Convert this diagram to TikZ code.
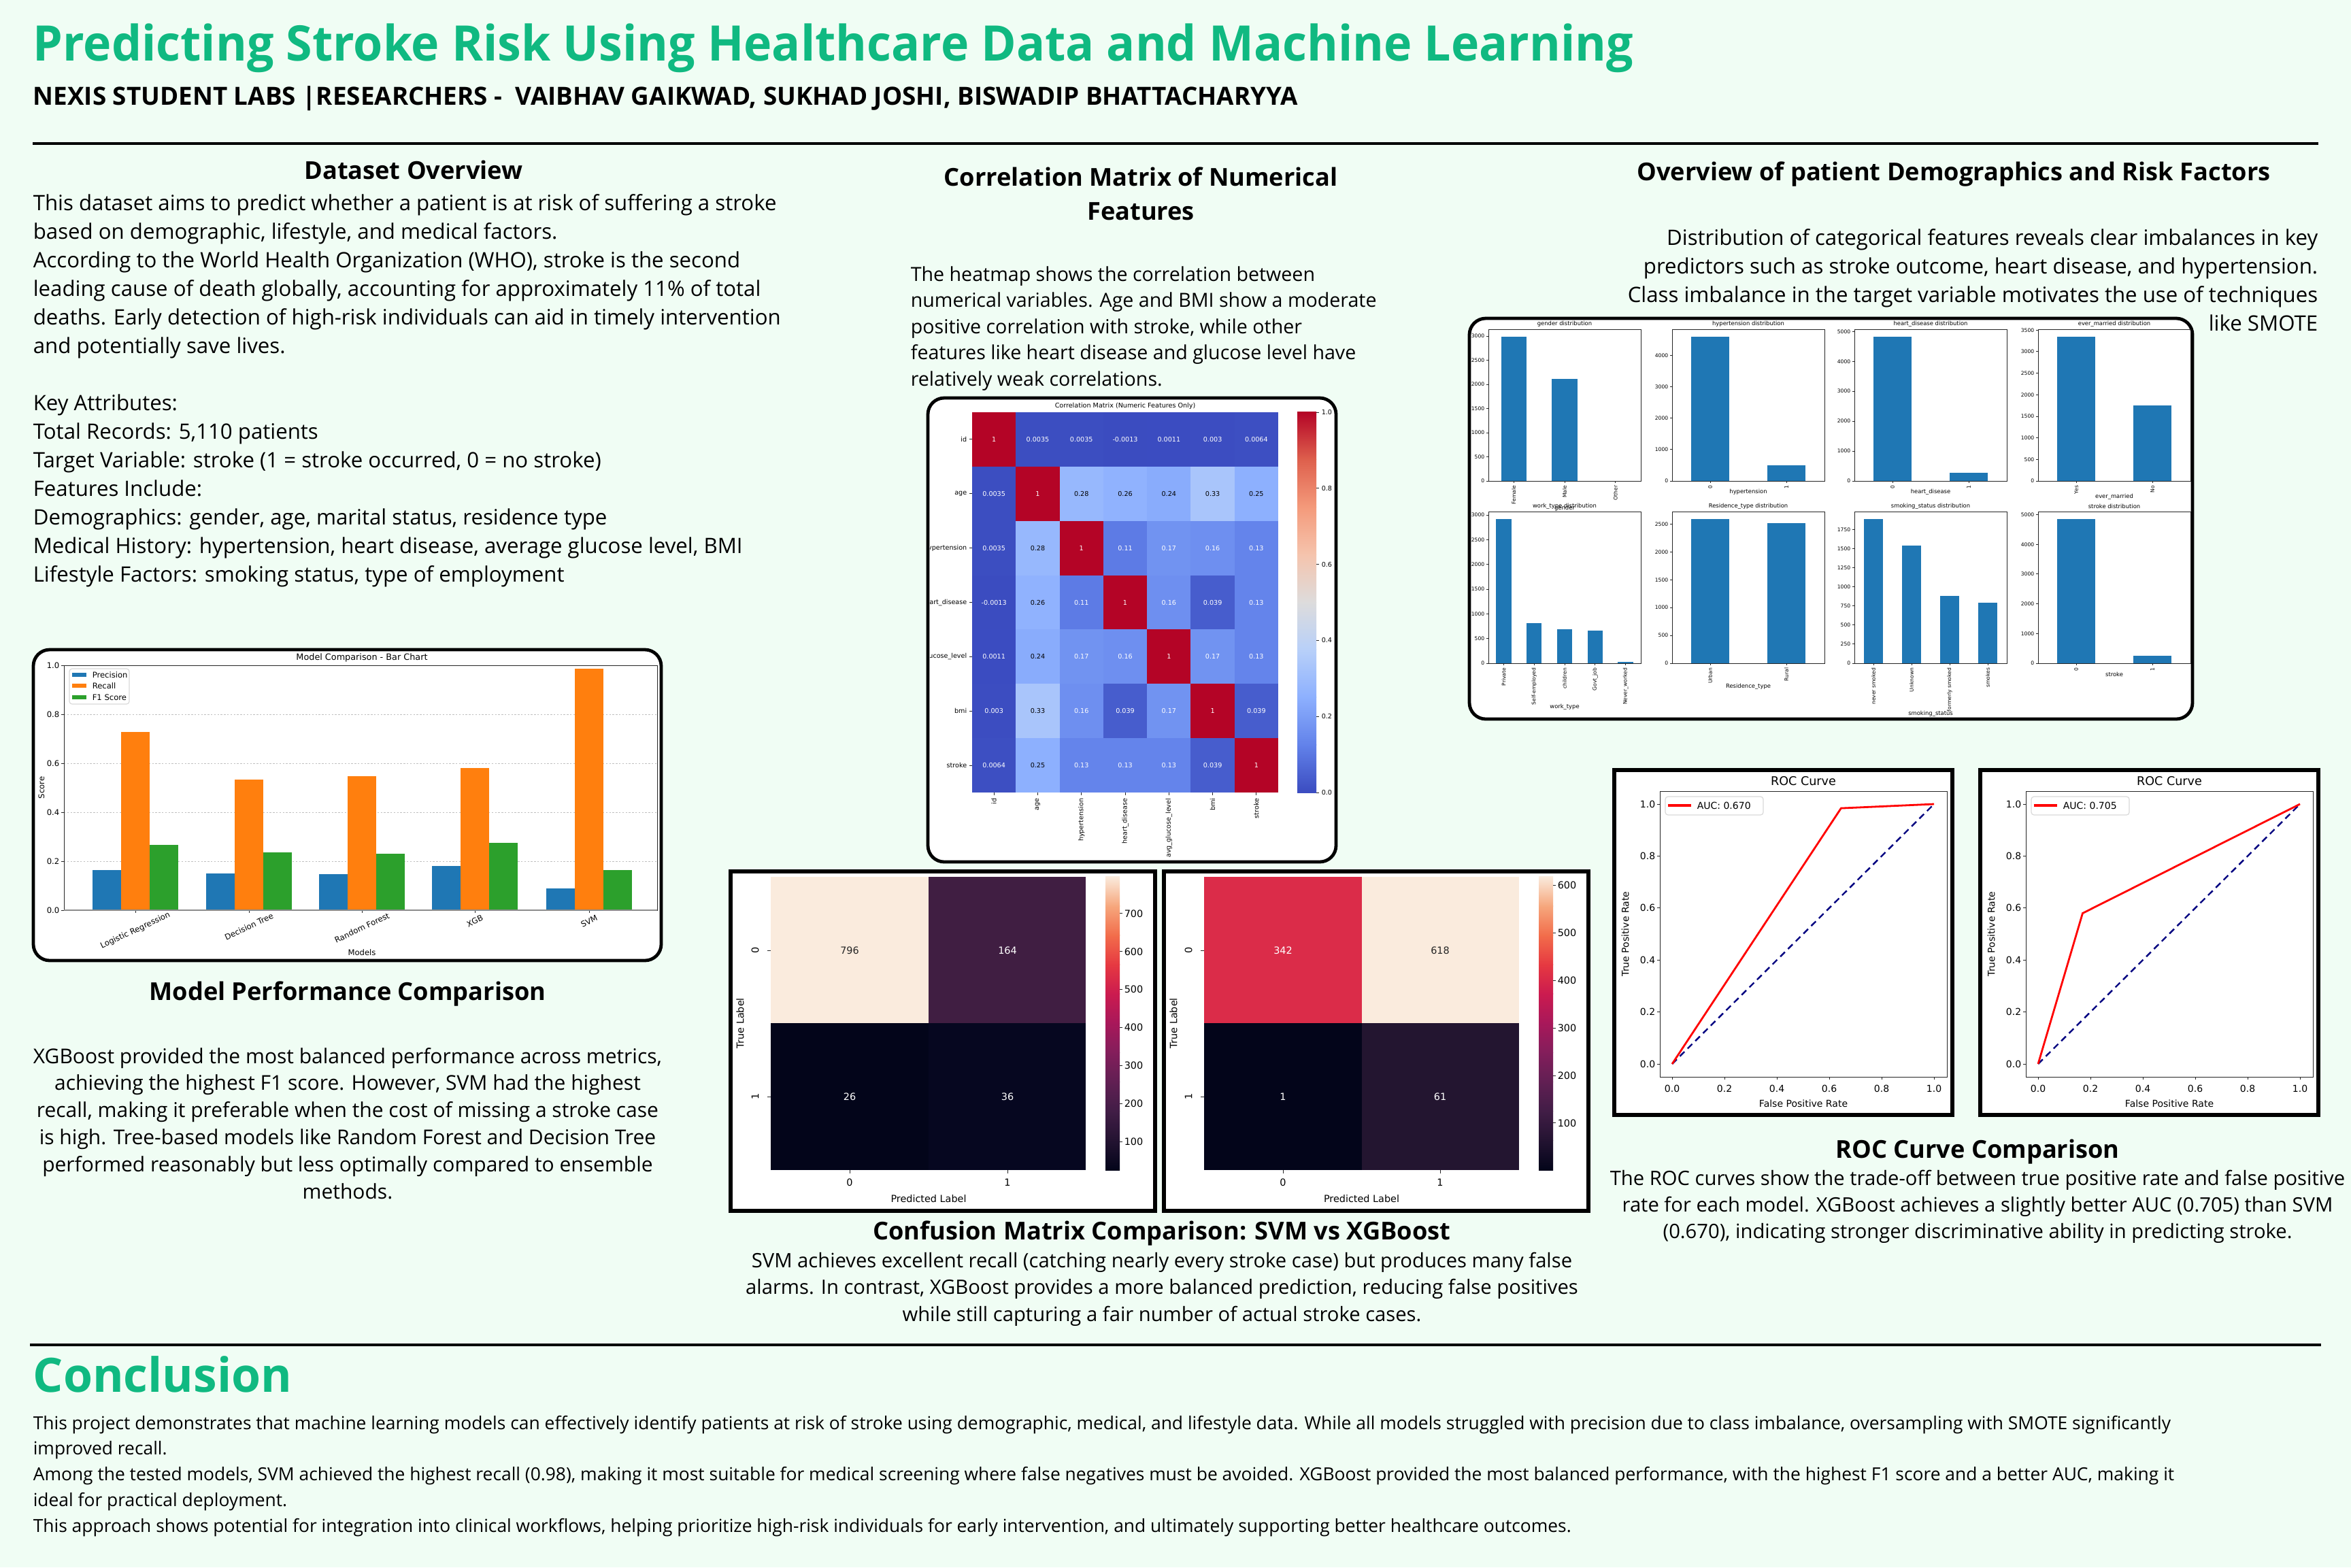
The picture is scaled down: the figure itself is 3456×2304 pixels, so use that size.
\documentclass[tikz,border=0pt]{standalone}
\usepackage{fontspec}
\setmainfont{Open Sans}
\newfontfamily\mpl{DejaVu Sans}
\definecolor{bg}{RGB}{240,253,244}
\definecolor{ttl}{RGB}{16,185,129}
\definecolor{mblue}{RGB}{31,119,180}
\definecolor{morange}{RGB}{255,127,14}
\definecolor{mgreen}{RGB}{44,160,44}
\definecolor{rocred}{RGB}{255,0,0}
\definecolor{rocnavy}{RGB}{0,0,128}
% coolwarm
\definecolor{cw0}{RGB}{59,76,192}
\definecolor{cw1}{RGB}{98,130,234}
\definecolor{cw2}{RGB}{141,176,254}
\definecolor{cw3}{RGB}{184,208,249}
\definecolor{cw4}{RGB}{221,220,220}
\definecolor{cw5}{RGB}{245,196,173}
\definecolor{cw6}{RGB}{244,154,123}
\definecolor{cw7}{RGB}{222,96,77}
\definecolor{cw8}{RGB}{180,4,38}
% rocket
\definecolor{rk0}{RGB}{3,5,26}
\definecolor{rk1}{RGB}{35,19,49}
\definecolor{rk2}{RGB}{65,29,70}
\definecolor{rk3}{RGB}{97,31,83}
\definecolor{rk4}{RGB}{131,30,91}
\definecolor{rk5}{RGB}{168,24,90}
\definecolor{rk6}{RGB}{203,27,79}
\definecolor{rk7}{RGB}{230,57,65}
\definecolor{rk8}{RGB}{242,109,75}
\definecolor{rk9}{RGB}{246,167,125}
\definecolor{rk10}{RGB}{250,235,221}
\definecolor{cmA}{RGB}{250,235,221}
\definecolor{cmB}{RGB}{64,30,66}
\definecolor{cmC}{RGB}{6,7,32}
\definecolor{cmD}{RGB}{3,5,26}
\definecolor{cmE}{RGB}{219,44,73}
\definecolor{cmF}{RGB}{35,21,48}

\tikzset{
  every node/.style={inner sep=0pt},
  body/.style={font=\fontsize{7.8}{9}\selectfont},
  bodyb/.style={font=\fontsize{7.15}{8.4}\selectfont},
  bodyc/.style={font=\fontsize{7.5}{8.4}\selectfont},
  bodyd/.style={font=\fontsize{7.3}{8.4}\selectfont},
  concl/.style={font=\fontsize{6.6}{8}\selectfont},
  head/.style={font=\fontsize{9.05}{10.5}\selectfont\bfseries, anchor=base},
  panel/.style={draw=black, line width=1.2pt, fill=white, rounded corners=6pt},
  sqpanel/.style={draw=black, line width=1.3pt, fill=white},
  rulerline/.style={line width=1.2pt, draw=black},
  spine/.style={draw=black!85, line width=0.25pt},
  gridl/.style={draw=black!25, line width=0.25pt, dash pattern=on 0.6pt off 0.6pt},
  bct/.style={font=\mpl\fontsize{2.9}{3.2}\selectfont},
  bctitle/.style={font=\mpl\fontsize{3.2}{3.6}\selectfont},
  hmt/.style={font=\mpl\fontsize{2.4}{3}\selectfont},
  cmt/.style={font=\mpl\fontsize{3.6}{4}\selectfont},
  roct/.style={font=\mpl\fontsize{3.5}{4}\selectfont},
  rocttl/.style={font=\mpl\fontsize{4.4}{5}\selectfont},
  dtick/.style={font=\mpl\fontsize{1.9}{2.2}\selectfont},
  dtitle/.style={font=\mpl\fontsize{2.1}{2.4}\selectfont},
}

\newcommand\textlines[7]{%
  \foreach \ln [count=\k from 0] in {#7} {%
    \node[#6, anchor=#5] (#1\k) at (#2,{#3+\k*#4}) {\ln};}}

\newcommand\dplot[8]{% #1 name #2 x0 #3 top #4 ymax #5 n #6 values #7 ticks #8 title
  \foreach \v [count=\i from 0] in {#6} {%
    \fill[mblue] ({#2+(\i+0.25)*224/#5},#3+223) rectangle ({#2+(\i+0.75)*224/#5},{#3+223-\v/#4*223});}
  \draw[spine] (#2,#3) rectangle ++(224,223);
  \foreach \t in {#7} {%
    \draw[spine] (#2,{#3+223-\t/#4*223}) -- ++(-3,0);
    \node[dtick, anchor=east] (#1y\t) at (#2-5,{#3+223-\t/#4*223}) {\t};}
  \node[dtitle] (#1t) at (#2+112,#3-8) {#8};
}
\newcommand\dcats[5]{% #1 name #2 x0 #3 top #4 n #5 labels
  \foreach \l [count=\i from 0] in {#5} {%
    \draw[spine] ({#2+(\i+0.5)*224/#4},#3+223) -- ++(0,3);
    \node[dtick, rotate=90, anchor=east] (#1c\i) at ({#2+(\i+0.5)*224/#4},#3+229) {\l};}
}
\newcommand\rocbox[5]{% #1 name #2 left #3 knee x #4 knee y #5 auc
\begin{scope}[shift={(#2,0)}]
  \draw[sqpanel] (0,1132) rectangle (497,1639);
  \foreach \t in {0.0,0.2,0.4,0.6,0.8,1.0} {%
    \draw[spine] ({85+385*\t},1583) -- ++(0,4);
    \node[roct] (#1x\t) at ({85+385*\t},1600) {\t};
    \draw[spine] (67,{1564-382*\t}) -- ++(-4,0);
    \node[roct, anchor=east] (#1y\t) at (61,{1564-382*\t}) {\t};}
  \draw[rocnavy, line width=0.6pt, dash pattern=on 2.4pt off 1.6pt] (85,1564) -- (470,1182);
  \draw[rocred, line width=0.7pt] (85,1564) -- ({85+385*#3},{1564-382*#4}) -- (470,1182);
  \draw[spine] (67,1163) rectangle (489,1583);
  \draw[draw=black!15, fill=white, rounded corners=1pt, line width=0.3pt] (75,1171) rectangle (219,1198);
  \draw[rocred, line width=0.9pt] (79,1184) -- (113,1184);
  \node[roct, anchor=west] (#1leg) at (121,1184) {AUC: #5};
  \node[rocttl] (#1t) at (278,1148) {ROC Curve};
  \node[roct] (#1xl) at (278,1622) {False Positive Rate};
  \node[roct, rotate=90] (#1yl) at (16,1373) {True Positive Rate};
\end{scope}}

\begin{document}
\begin{tikzpicture}[x=0.25pt, y=-0.25pt]
\path[use as bounding box, fill=bg] (0,0) rectangle (3456,2304);

% ---------- header ----------
\node[anchor=base west, font=\fontsize{18}{22}\selectfont\bfseries, text=ttl, xscale=0.97] (title) at (48,89)
  {Predicting Stroke Risk Using Healthcare Data and Machine Learning};
\node[anchor=base west, font=\fontsize{9.2}{10}\selectfont\bfseries] (authors) at (48,154)
  {NEXIS STUDENT LABS |RESEARCHERS -\ \ VAIBHAV GAIKWAD, SUKHAD JOSHI, BISWADIP BHATTACHARYYA};
\coordinate (r1a) at (48,211); \coordinate (r1b) at (3408,211);
\draw[rulerline] (r1a) -- (r1b);

% ---------- left column ----------
\node[head] (h1) at (608,263) {Dataset Overview};
\textlines{ds}{48}{309}{42}{base west}{body}{{This dataset aims to predict whether a patient is at risk of suffering a stroke},
 {based on demographic, lifestyle, and medical factors.},
 {According to the World Health Organization (WHO), stroke is the second},
 {leading cause of death globally, accounting for approximately 11\% of total},
 {deaths. Early detection of high-risk individuals can aid in timely intervention},
 {and potentially save lives.}}
\textlines{ka}{48}{603}{42}{base west}{body}{{Key Attributes:},
 {Total Records: 5,110 patients},
 {Target Variable: stroke (1 = stroke occurred, 0 = no stroke)},
 {Features Include:},
 {Demographics: gender, age, marital status, residence type},
 {Medical History: hypertension, heart disease, average glucose level, BMI},
 {Lifestyle Factors: smoking status, type of employment}}

% bar chart panel
\draw[panel] (49,955) rectangle (972,1412);
\foreach \g in {0.2,0.4,0.6,0.8} \draw[gridl] (94,{1338-\g*360}) -- (966,{1338-\g*360});
\foreach \c/\p/\r/\f in {199/0.163/0.727/0.267, 366/0.151/0.534/0.235, 532/0.146/0.548/0.231, 698/0.181/0.581/0.276, 866/0.090/0.985/0.165} {
  \fill[mblue] (\c-63,1338) rectangle (\c-21,{1338-\p*360});
  \fill[morange] (\c-21,1338) rectangle (\c+21,{1338-\r*360});
  \fill[mgreen] (\c+21,1338) rectangle (\c+63,{1338-\f*360});
  \draw[spine] (\c,1338) -- (\c,1342);
}
\draw[spine] (94,978) rectangle (966,1338);
\draw[black!45, line width=0.5pt] (94,1338) -- (966,1338);
\foreach \t in {0.0,0.2,0.4,0.6,0.8,1.0} {
  \draw[spine] (94,{1338-\t*360}) -- ++(-4,0);
  \node[bct, anchor=east] (bcy\t) at (88,{1338-\t*360}) {\t};
}
\node[bctitle] (bctitle) at (532,967) {Model Comparison - Bar Chart};
\draw[draw=black!15, fill=white, rounded corners=1pt, line width=0.3pt] (102,983) rectangle (190,1035);
\fill[mblue] (106,989) rectangle (127,995);
\fill[morange] (106,1005) rectangle (127,1011);
\fill[mgreen] (106,1022) rectangle (127,1028);
\node[bct, anchor=west] (lg1) at (135,992) {Precision};
\node[bct, anchor=west] (lg2) at (135,1008) {Recall};
\node[bct, anchor=west] (lg3) at (135,1025) {F1 Score};
\node[bct, rotate=25] (m1) at (199,1368) {Logistic Regression};
\node[bct, rotate=25] (m2) at (366,1362) {Decision Tree};
\node[bct, rotate=25] (m3) at (532,1364) {Random Forest};
\node[bct, rotate=25] (m4) at (698,1354) {XGB};
\node[bct, rotate=25] (m5) at (866,1354) {SVM};
\node[bct] (mx) at (532,1400) {Models};
\node[bct, rotate=90] (my) at (61,1158) {Score};

\node[head] (h2) at (511,1470) {Model Performance Comparison};
\textlines{mp}{511}{1563}{39.8}{base}{bodyc}{{XGBoost provided the most balanced performance across metrics,},
 {achieving the highest F1 score. However, SVM had the highest},
 {recall, making it preferable when the cost of missing a stroke case},
 {is high. Tree-based models like Random Forest and Decision Tree},
 {performed reasonably but less optimally compared to ensemble},
 {methods.}}

% ---------- middle column ----------
\node[head] (h3a) at (1677,273) {Correlation Matrix of Numerical};
\node[head] (h3b) at (1677,323) {Features};
\textlines{cm}{1338}{413}{38.5}{base west}{bodyb}{{The heatmap shows the correlation between},
 {numerical variables. Age and BMI show a moderate},
 {positive correlation with stroke, while other},
 {features like heart disease and glucose level have},
 {relatively weak correlations.}}

\draw[panel] (1364,585) rectangle (1964,1267);
\begin{scope}
\clip[rounded corners=5pt] (1367,588) rectangle (1961,1264);
\node[hmt] (hmtitle) at (1654,597) {Correlation Matrix (Numeric Features Only)};
\foreach \row [count=\r from 0] in {
  {1,0.0035,0.0035,-0.0013,0.0011,0.003,0.0064},
  {0.0035,1,0.28,0.26,0.24,0.33,0.25},
  {0.0035,0.28,1,0.11,0.17,0.16,0.13},
  {-0.0013,0.26,0.11,1,0.16,0.039,0.13},
  {0.0011,0.24,0.17,0.16,1,0.17,0.13},
  {0.003,0.33,0.16,0.039,0.17,1,0.039},
  {0.0064,0.25,0.13,0.13,0.13,0.039,1}} {
  \foreach \v [count=\c from 0] in \row {
    \pgfmathsetmacro\tv{max(\v,0)*8}
    \pgfmathtruncatemacro\kk{min(floor(\tv),7)}
    \pgfmathtruncatemacro\kn{\kk+1}
    \pgfmathtruncatemacro\pp{round(100*(1-(\tv-\kk)))}
    \colorlet{cellc}{cw\kk!\pp!cw\kn}
    \pgfmathtruncatemacro\dk{and(\v>0.2,\v<0.9)}
    \ifnum\dk=1 \def\tcol{black}\else\def\tcol{white}\fi
    \fill[cellc] ({1429+\c*64.29},{606+\r*79.86}) rectangle ({1429+(\c+1)*64.29},{606+(\r+1)*79.86});
    \node[hmt, text=\tcol] (hm-\r-\c) at ({1429+(\c+0.5)*64.29},{606+(\r+0.5)*79.86}) {\v};
  }
}
\foreach \lab [count=\i from 0] in {id,age,hypertension,heart\_disease,avg\_glucose\_level,bmi,stroke} {
  \draw[spine] (1429,{606+(\i+0.5)*79.86}) -- ++(-4,0);
  \node[hmt, anchor=east] (hr\i) at (1422,{606+(\i+0.5)*79.86}) {\lab};
  \draw[spine] ({1429+(\i+0.5)*64.29},1165) -- ++(0,4);
  \node[hmt, rotate=90, anchor=east] (hc\i) at ({1429+(\i+0.5)*64.29},1173) {\lab};
}
\foreach \k [evaluate=\k as \kn using int(\k+1)] in {0,...,7} {
  \shade[bottom color=cw\k, top color=cw\kn] (1907,{1165-\k*69.875}) rectangle (1935,{1165-(\k+1)*69.875-0.5});
}
\foreach \t in {0.0,0.2,0.4,0.6,0.8,1.0} {
  \draw[spine] (1935,{1165-\t*559}) -- ++(4,0);
  \node[hmt, anchor=west] (hb\t) at (1942,{1165-\t*559}) {\t};
}
\end{scope}

% confusion matrices
\draw[sqpanel] (1074,1281) rectangle (1698,1780);
\draw[sqpanel] (1711,1281) rectangle (2335,1780);
% left
\fill[cmA] (1133,1289) rectangle (1365,1504);
\fill[cmB] (1365,1289) rectangle (1596,1504);
\fill[cmD] (1133,1504) rectangle (1365,1720);
\fill[cmC] (1365,1504) rectangle (1596,1720);
\node[cmt, text=black!85] (c1a) at (1249,1397) {796};
\node[cmt, text=white] (c1b) at (1481,1397) {164};
\node[cmt, text=white] (c1c) at (1249,1612) {26};
\node[cmt, text=white] (c1d) at (1481,1612) {36};
% right
\fill[cmE] (1770,1289) rectangle (2002,1504);
\fill[cmA] (2002,1289) rectangle (2233,1504);
\fill[cmD] (1770,1504) rectangle (2002,1720);
\fill[cmF] (2002,1504) rectangle (2233,1720);
\node[cmt, text=white] (c2a) at (1886,1397) {342};
\node[cmt, text=black!85] (c2b) at (2117,1397) {618};
\node[cmt, text=white] (c2c) at (1886,1612) {1};
\node[cmt, text=white] (c2d) at (2117,1612) {61};
% axes labels for both
\foreach \n/\L/\ca/\cb in {l/1133/1249/1481, r/1770/1886/2117} {
  \draw[spine] (\L,1397) -- ++(-5,0);
  \draw[spine] (\L,1612) -- ++(-5,0);
  \node[cmt, rotate=90] (\n r0) at (\L-23,1397) {0};
  \node[cmt, rotate=90] (\n r1) at (\L-23,1612) {1};
  \node[cmt, rotate=90] (\n yl) at (\L-45,1504) {True Label};
  \draw[spine] (\ca,1720) -- ++(0,5);
  \draw[spine] (\cb,1720) -- ++(0,5);
  \node[cmt] (\n c0) at (\ca,1738) {0};
  \node[cmt] (\n c1) at (\cb,1738) {1};
  \node[cmt] (\n xl) at ({(\ca+\cb)/2},1762) {Predicted Label};
}
% colorbars
\foreach \k [evaluate=\k as \kn using int(\k+1)] in {0,...,9} {
  \shade[bottom color=rk\k, top color=rk\kn] (1625,{1720-\k*43.1}) rectangle (1646,{1720-(\k+1)*43.1-0.5});
  \shade[bottom color=rk\k, top color=rk\kn] (2262,{1720-\k*43.1}) rectangle (2283,{1720-(\k+1)*43.1-0.5});
}
\foreach \t in {100,200,300,400,500,600,700} {
  \draw[spine] (1646,{1720-(\t-26)*0.5597}) -- ++(4,0);
  \node[cmt, anchor=west] (lcb\t) at (1652,{1720-(\t-26)*0.5597}) {\t};
}
\foreach \t in {100,200,300,400,500,600} {
  \draw[spine] (2283,{1720-(\t-1)*0.6985}) -- ++(4,0);
  \node[cmt, anchor=west] (rcb\t) at (2289,{1720-(\t-1)*0.6985}) {\t};
}

\node[head] (h4) at (1708,1822) {Confusion Matrix Comparison: SVM vs XGBoost};
\textlines{cf}{1708}{1863}{39.5}{base}{bodyd}{{SVM achieves excellent recall (catching nearly every stroke case) but produces many false},
 {alarms. In contrast, XGBoost provides a more balanced prediction, reducing false positives},
 {while still capturing a fair number of actual stroke cases.}}

% ---------- right column ----------
\node[head] (h5) at (2872,265) {Overview of patient Demographics and Risk Factors};
\textlines{dm}{3408}{360}{42}{base east}{body}{{Distribution of categorical features reveals clear imbalances in key},
 {predictors such as stroke outcome, heart disease, and hypertension.},
 {Class imbalance in the target variable motivates the use of techniques},
 {like SMOTE}}

\draw[panel] (2160,468) rectangle (3223,1057);
\dplot{ga}{2188}{484}{3143.7}{3}{2994,2115,1}{0,500,1000,1500,2000,2500,3000}{gender distribution}
\dcats{ga}{2188}{484}{3}{Female,Male,Other}
\dplot{hy}{2458}{484}{4842.6}{2}{4612,498}{0,1000,2000,3000,4000}{hypertension distribution}
\dcats{hy}{2458}{484}{2}{0,1}
\dplot{hd}{2726}{484}{5075.7}{2}{4834,276}{0,1000,2000,3000,4000,5000}{heart\_disease distribution}
\dcats{hd}{2726}{484}{2}{0,1}
\dplot{em}{2996}{484}{3520.65}{2}{3353,1757}{0,500,1000,1500,2000,2500,3000,3500}{ever\_married distribution}
\dcats{em}{2996}{484}{2}{Yes,No}
\dplot{wt}{2188}{752}{3071.25}{5}{2925,819,687,657,22}{0,500,1000,1500,2000,2500,3000}{work\_type distribution}
\dcats{wt}{2188}{752}{5}{Private,Self-employed,children,Govt\_job,Never\_worked}
\dplot{rt}{2458}{752}{2725.8}{2}{2596,2514}{0,500,1000,1500,2000,2500}{Residence\_type distribution}
\dcats{rt}{2458}{752}{2}{Urban,Rural}
\dplot{ss}{2726}{752}{1986.6}{4}{1892,1544,885,789}{0,250,500,750,1000,1250,1500,1750}{smoking\_status distribution}
\dcats{ss}{2726}{752}{4}{never smoked,Unknown,formerly smoked,smokes}
\dplot{st}{2996}{752}{5104}{2}{4861,249}{0,1000,2000,3000,4000,5000}{stroke distribution}
\dcats{st}{2996}{752}{2}{0,1}
\node[dtitle] (xlg) at (2300,747) {gender};
\node[dtitle] (xlh) at (2570,723) {hypertension};
\node[dtitle] (xlhd) at (2838,723) {heart\_disease};
\node[dtitle] (xlem) at (3108,730) {ever\_married};
\node[dtitle] (xlwt) at (2300,1039) {work\_type};
\node[dtitle] (xlrt) at (2570,1009) {Residence\_type};
\node[dtitle] (xlss) at (2838,1049) {smoking\_status};
\node[dtitle] (xlst) at (3108,991) {stroke};

% ROC
\rocbox{ra}{2373}{0.645}{0.984}{0.670}
\rocbox{rb}{2911}{0.17}{0.58}{0.705}

\node[head] (h6) at (2907,1702) {ROC Curve Comparison};
\textlines{rc}{2907}{1742}{39}{base}{bodyd}{{The ROC curves show the trade-off between true positive rate and false positive},
 {rate for each model. XGBoost achieves a slightly better AUC (0.705) than SVM},
 {(0.670), indicating stronger discriminative ability in predicting stroke.}}

% ---------- conclusion ----------
\coordinate (r2a) at (44,1977); \coordinate (r2b) at (3412,1977);
\draw[rulerline] (r2a) -- (r2b);
\node[anchor=base west, font=\fontsize{17.4}{20}\selectfont\bfseries, text=ttl] (conc) at (48,2046) {Conclusion};
\foreach \ln [count=\k from 0] in {
 {This project demonstrates that machine learning models can effectively identify patients at risk of stroke using demographic, medical, and lifestyle data. While all models struggled with precision due to class imbalance, oversampling with SMOTE significantly},
 {improved recall.},
 {Among the tested models, SVM achieved the highest recall (0.98), making it most suitable for medical screening where false negatives must be avoided. XGBoost provided the most balanced performance, with the highest F1 score and a better AUC, making it},
 {ideal for practical deployment.},
 {This approach shows potential for integration into clinical workflows, helping prioritize high-risk individuals for early intervention, and ultimately supporting better healthcare outcomes.}} {
  \node[concl, anchor=base west] (cc\k) at (48,{2101+\k*37.8}) {\ln};
}
\end{tikzpicture}
\end{document}
